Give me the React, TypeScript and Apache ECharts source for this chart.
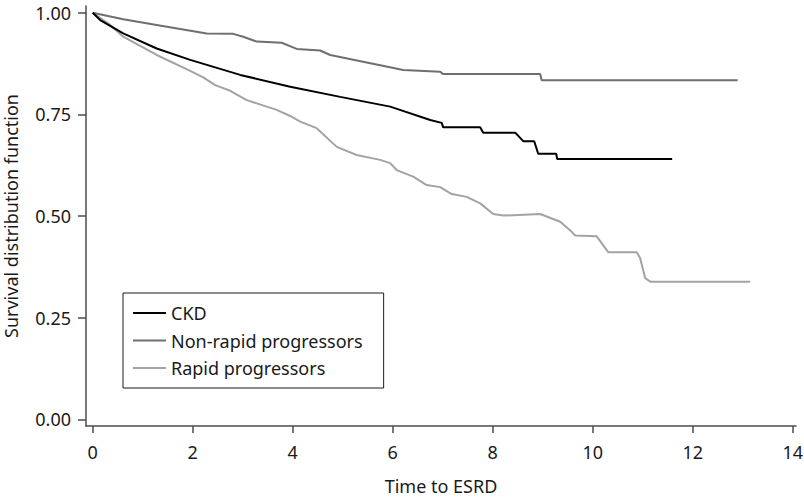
import React, { useEffect, useRef } from "react";
import * as echarts from "echarts";

const xTicks = [0, 2, 4, 6, 8, 10, 12, 14];
const yTicks = [0, 0.25, 0.5, 0.75, 1.0];

const ckdX = [0, 0.15, 0.61, 1.28, 1.95, 2.95, 3.95, 4.95, 5.95, 6.75, 6.98, 7.01, 7.75, 7.81, 8.45, 8.61, 8.83, 8.91, 9.27, 9.29, 11.59];
const ckdY = [1.0, 0.982, 0.949, 0.912, 0.884, 0.847, 0.818, 0.793, 0.769, 0.736, 0.729, 0.718, 0.718, 0.705, 0.705, 0.684, 0.684, 0.653, 0.653, 0.64, 0.64];

const nonRapidX = [0, 0.61, 1.28, 2.28, 2.81, 3.01, 3.28, 3.78, 4.08, 4.55, 4.75, 5.75, 6.21, 6.95, 7.01, 8.95, 8.98, 12.9];
const nonRapidY = [1.0, 0.984, 0.97, 0.949, 0.948, 0.941, 0.929, 0.926, 0.911, 0.907, 0.896, 0.871, 0.859, 0.855, 0.849, 0.849, 0.834, 0.834];

const rapidX = [0, 0.35, 0.61, 1.28, 1.95, 2.21, 2.45, 2.75, 3.08, 3.68, 3.95, 4.15, 4.48, 4.88, 5.28, 5.75, 5.95, 6.08, 6.41, 6.68, 6.95, 7.18, 7.48, 7.75, 8.01, 8.21, 8.95, 9.35, 9.58, 9.65, 10.08, 10.31, 10.88, 10.95, 11.05, 11.16, 13.15];
const rapidY = [1.0, 0.97, 0.941, 0.896, 0.857, 0.841, 0.822, 0.808, 0.785, 0.761, 0.746, 0.732, 0.716, 0.67, 0.65, 0.638, 0.63, 0.613, 0.597, 0.576, 0.571, 0.554, 0.547, 0.531, 0.505, 0.501, 0.505, 0.486, 0.461, 0.452, 0.45, 0.411, 0.411, 0.396, 0.347, 0.338, 0.338];

const seriesNames = ["CKD", "Non-rapid progressors", "Rapid progressors"];
const seriesColors = ["#000000", "#6f6f6f", "#a3a3a3"];

const zip = (xs: number[], ys: number[]) => xs.map((x, i) => [x, ys[i]]);

export default function App() {
  const ref = useRef<HTMLDivElement>(null);
  useEffect(() => {
    if (!ref.current) return;
    const chart = echarts.init(ref.current, undefined, { renderer: "svg" });
    const font = "Noto Sans";
    const axisColor = "#4d4d4d";
    const datasets = [zip(ckdX, ckdY), zip(nonRapidX, nonRapidY), zip(rapidX, rapidY)];
    chart.setOption({
      animation: false,
      textStyle: { fontFamily: font },
      grid: { left: 86, top: 6, right: 8, bottom: 72, containLabel: false, outerBoundsMode: "none" },
      legend: {
        orient: "vertical",
        left: 123,
        top: 293,
        data: seriesNames.map((name, i) => ({ name, itemStyle: { color: seriesColors[i] } })),
        icon: "path://M0,0H33V2H0Z",
        borderColor: "#1a1a1a",
        borderWidth: 1,
        padding: [11, 21, 11, 10],
        itemWidth: 33,
        itemHeight: 18,
        itemGap: 9.5,
        textStyle: { fontFamily: font, fontSize: 18, color: "#1a1a1a" },
      },
      xAxis: {
        type: "value",
        min: -0.134,
        max: 14.066,
        name: "Time to ESRD",
        nameLocation: "middle",
        nameGap: 51,
        nameTextStyle: { fontFamily: font, fontSize: 18, lineHeight: 18, color: "#1a1a1a" },
        axisLine: { show: true, onZero: false, lineStyle: { color: axisColor, width: 1.5 } },
        axisTick: { show: true, length: 7, customValues: xTicks, lineStyle: { color: axisColor, width: 1.5 } },
        axisLabel: {
          customValues: xTicks,
          margin: 17,
          fontSize: 18,
          fontFamily: font,
          color: "#1a1a1a",
          formatter: (v: number) => String(v),
        },
        splitLine: { show: false },
      },
      yAxis: {
        type: "value",
        min: -0.0165,
        max: 1.0165,
        name: "Survival distribution function",
        nameLocation: "middle",
        nameGap: 66,
        nameTextStyle: { fontFamily: font, fontSize: 18, color: "#1a1a1a" },
        axisLine: { show: true, onZero: false, lineStyle: { color: axisColor, width: 1.5 } },
        axisTick: { show: true, length: 8, customValues: yTicks, lineStyle: { color: axisColor, width: 1.5 } },
        axisLabel: {
          customValues: yTicks,
          margin: 15,
          fontSize: 18,
          fontFamily: font,
          color: "#1a1a1a",
          formatter: (v: number) => v.toFixed(2),
        },
        splitLine: { show: false },
      },
      series: seriesNames.map((name, i) => ({
        name,
        type: "line",
        data: datasets[i],
        symbol: "none",
        smooth: false,
        lineStyle: { color: seriesColors[i], width: 2 },
        itemStyle: { color: seriesColors[i] },
        z: 3 - i,
      })),
    });
    return () => chart.dispose();
  }, []);
  return <div ref={ref} style={{ width: 804, height: 498, position: "absolute", left: 0, top: 0 }} />;
}
